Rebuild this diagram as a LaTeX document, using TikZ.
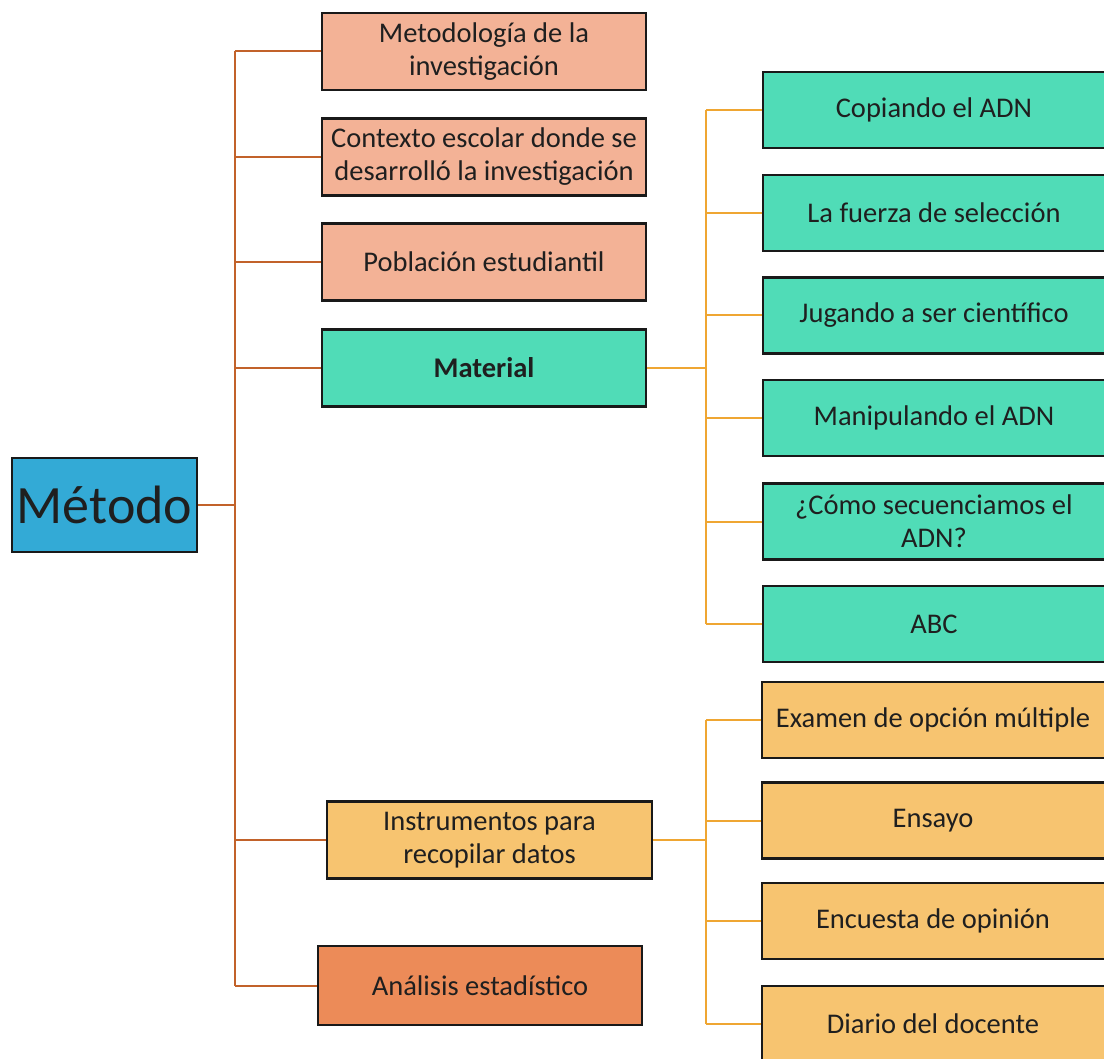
\documentclass[tikz,border=0pt]{standalone}
\usepackage{fontspec}
\setmainfont{Carlito}
\begin{document}
\begin{tikzpicture}[x=1pt,y=-1pt,
  box/.style={draw=black!90, line width=2.4pt, text=black!88, align=center, inner sep=2pt,
              font=\fontsize{28.5}{33}\selectfont},
  peach/.style={box, fill=peachc, minimum width=324pt, minimum height=77pt},
  mint/.style={box, fill=mintc, minimum width=352pt, minimum height=76pt},
  sand/.style={box, fill=sandc, minimum width=352pt, minimum height=76pt},
  brn/.style={draw=brnc, line width=2pt},
  org/.style={draw=orgc, line width=2pt}]
\definecolor{blu}{HTML}{33AAD6}
\definecolor{peachc}{HTML}{F3B296}
\definecolor{mintc}{HTML}{50DCB7}
\definecolor{sandc}{HTML}{F7C470}
\definecolor{rust}{HTML}{EC8B58}
\definecolor{brnc}{HTML}{C2622A}
\definecolor{orgc}{HTML}{EFA632}
\fill[white] (0,0) rectangle (1104,1059);
\useasboundingbox (0,0) rectangle (1104,1059);

% root
\node[box, fill=blu, minimum width=185pt, minimum height=94pt, font=\fontsize{54}{62}\selectfont] (m) at (104.5,505) {Método};

% first level
\node[peach] (met) at (484,51.5) {Metodología de la\\investigación};
\node[peach] (ctx) at (484,157) {Contexto escolar donde se\\desarrolló la investigación};
\node[peach] (pob) at (484,262) {Población estudiantil};
\node[peach, fill=mintc] (mat) at (484,368) {\textbf{Material}};
\node[peach, fill=sandc, minimum width=325pt] (ins) at (489.5,840) {Instrumentos para\\recopilar datos};
\node[peach, fill=rust, minimum height=79pt] (ana) at (480,985.5) {Análisis estadístico};

% material children
\node[mint] (g1) at (939,110) {\hspace*{-10pt}Copiando el ADN};
\node[mint] (g2) at (939,213) {\hspace*{-10pt}La fuerza de selección};
\node[mint] (g3) at (939,315.5) {\hspace*{-10pt}Jugando a ser científico};
\node[mint] (g4) at (939,418) {\hspace*{-10pt}Manipulando el ADN};
\node[mint] (g5) at (939,521.5) {\hspace*{-10pt}¿Cómo secuenciamos el\\\hspace*{-10pt}ADN?};
\node[mint] (g6) at (939,624) {\hspace*{-10pt}ABC};

% instrument children
\node[sand] (s1) at (938,720) {\hspace*{-10pt}Examen de opción múltiple};
\node[sand] (s2) at (938,820.5) {\hspace*{-10pt}Ensayo};
\node[sand] (s3) at (938,921) {\hspace*{-10pt}Encuesta de opinión};
\node[sand] (s4) at (938,1024) {\hspace*{-10pt}Diario del docente};

% connectors: root
\coordinate (T) at (235,505);
\draw[brn] (m.east) -- (T);
\draw[brn] (T |- met.west) -- (T |- ana.west);
\foreach \n in {met,ctx,pob,mat,ins,ana}{
  \draw[brn] (T |- \n.west) -- (\n.west);
}

% connectors: material
\coordinate (G) at (706,368);
\draw[org] (mat.east) -- (G);
\draw[org] (G |- g1.west) -- (G |- g6.west);
\foreach \n in {g1,g2,g3,g4,g5,g6}{
  \draw[org] (G |- \n.west) -- (\n.west);
}

% connectors: instruments
\coordinate (S) at (706,840);
\draw[org] (ins.east) -- (S);
\draw[org] (S |- s1.west) -- (S |- s4.west);
\foreach \n in {s1,s2,s3,s4}{
  \draw[org] (S |- \n.west) -- (\n.west);
}
\end{tikzpicture}
\end{document}
